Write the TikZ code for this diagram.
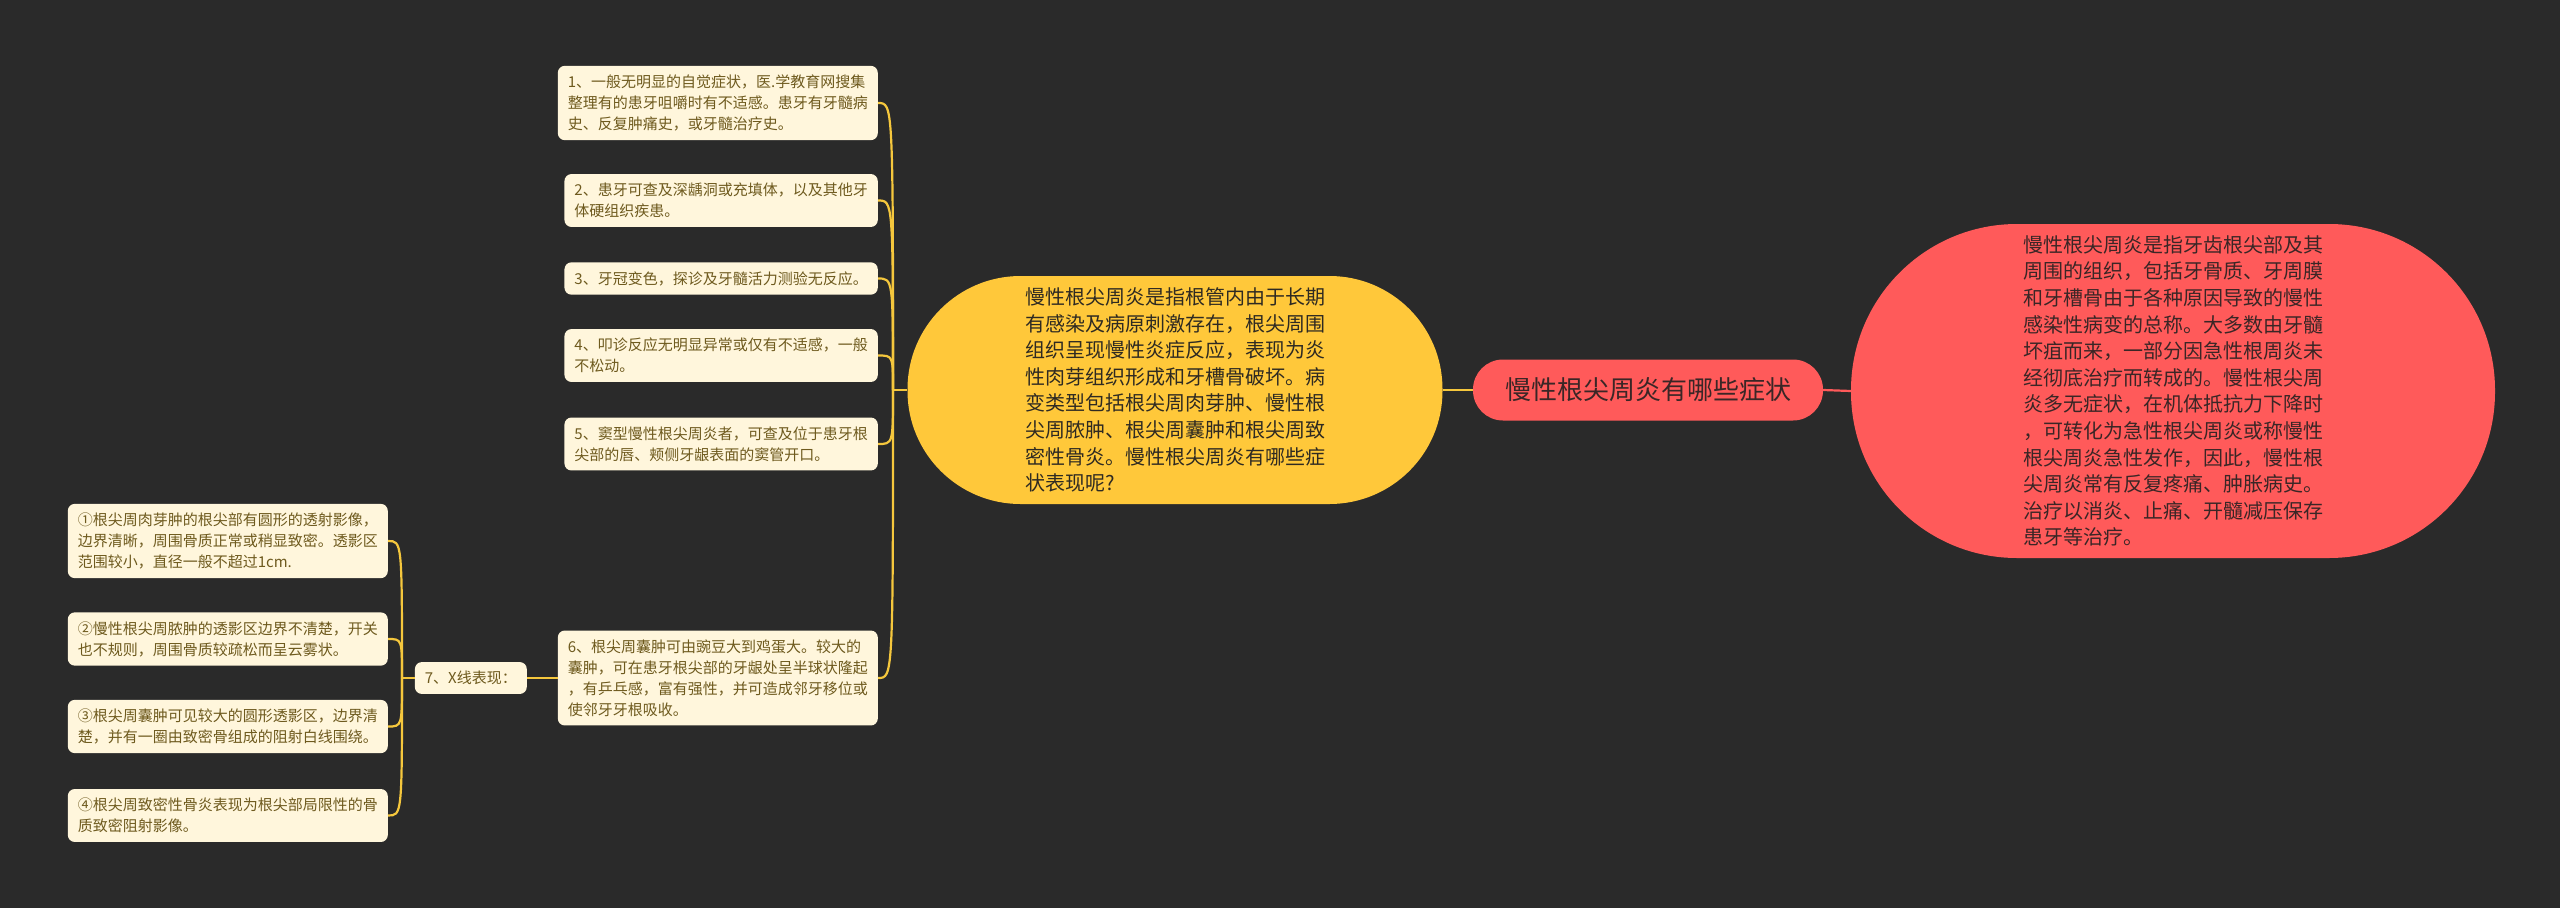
\documentclass[tikz,border=0pt]{standalone}
\usepackage{fontspec}
\setmainfont{Noto Sans CJK SC}
\definecolor{bg}{HTML}{2A2A2A}
\definecolor{yel}{HTML}{FFC83A}
\definecolor{redc}{HTML}{FF5A5A}
\definecolor{boxfill}{HTML}{FFF6DC}
\definecolor{boxtext}{HTML}{6E5A1E}
\definecolor{ylinec}{HTML}{F5C73D}
\definecolor{darktext}{HTML}{2E2A22}
\definecolor{redtext}{HTML}{3A2626}
\begin{document}
\begin{tikzpicture}[x=1pt,y=-1pt,
  leaf/.style={fill=boxfill, rounded corners=7pt, inner xsep=10pt, inner ysep=9pt,
    align=left, font=\fontsize{15}{21}\selectfont, text=boxtext, anchor=east},
  yellownode/.style={fill=yel, minimum width=535pt, minimum height=228pt,
    rounded corners=113pt, align=left, text width=300pt, inner sep=0pt,
    font=\fontsize{20}{26.6}\selectfont, text=darktext},
  centernode/.style={fill=redc, minimum width=350pt, minimum height=61pt,
    rounded corners=30pt, inner sep=0pt, font=\fontsize{26}{30}\selectfont, text=redtext},
  bignode/.style={fill=redc, minimum width=644pt, minimum height=334pt,
    rounded corners=166pt, align=left, text width=300pt, inner sep=0pt,
    font=\fontsize{20}{26.6}\selectfont, text=redtext},
  yline/.style={draw=ylinec, line width=2.2pt},
  rline/.style={draw=redc, line width=2.2pt}]
\useasboundingbox[fill=bg] (0,0) rectangle (2560,908);

% main nodes
\node[yellownode] (y) at (1175,390) {慢性根尖周炎是指根管内由于长期\\有感染及病原刺激存在，根尖周围\\组织呈现慢性炎症反应，表现为炎\\性肉芽组织形成和牙槽骨破坏。病\\变类型包括根尖周肉芽肿、慢性根\\尖周脓肿、根尖周囊肿和根尖周致\\密性骨炎。慢性根尖周炎有哪些症\\状表现呢?};
\node[centernode] (c) at (1648,390) {慢性根尖周炎有哪些症状};
\node[bignode] (r) at (2173,391) {慢性根尖周炎是指牙齿根尖部及其\\周围的组织，包括牙骨质、牙周膜\\和牙槽骨由于各种原因导致的慢性\\感染性病变的总称。大多数由牙髓\\坏疽而来，一部分因急性根周炎未\\经彻底治疗而转成的。慢性根尖周\\炎多无症状，在机体抵抗力下降时\\，可转化为急性根尖周炎或称慢性\\根尖周炎急性发作，因此，慢性根\\尖周炎常有反复疼痛、肿胀病史。\\治疗以消炎、止痛、开髓减压保存\\患牙等治疗。};

% right-side leaves of yellow node
\node[leaf] (b1) at (878,103) {1、一般无明显的自觉症状，医.学教育网搜集\\整理有的患牙咀嚼时有不适感。患牙有牙髓病\\史、反复肿痛史，或牙髓治疗史。};
\node[leaf] (b2) at (878,200.5) {2、患牙可查及深龋洞或充填体，以及其他牙\\体硬组织疾患。};
\node[leaf] (b3) at (878,278.5) {3、牙冠变色，探诊及牙髓活力测验无反应。};
\node[leaf] (b4) at (878,355.5) {4、叩诊反应无明显异常或仅有不适感，一般\\不松动。};
\node[leaf] (b5) at (878,444) {5、窦型慢性根尖周炎者，可查及位于患牙根\\尖部的唇、颊侧牙龈表面的窦管开口。};
\node[leaf] (b6) at (878,678) {6、根尖周囊肿可由豌豆大到鸡蛋大。较大的\\囊肿，可在患牙根尖部的牙龈处呈半球状隆起\\，有乒乓感，富有强性，并可造成邻牙移位或\\使邻牙牙根吸收。};
\node[leaf] (b7) at (527,678) {7、X线表现：};

% X-ray leaves
\node[leaf] (l1) at (388,541) {①根尖周肉芽肿的根尖部有圆形的透射影像，\\边界清晰，周围骨质正常或稍显致密。透影区\\范围较小，直径一般不超过1cm.};
\node[leaf] (l2) at (388,639) {②慢性根尖周脓肿的透影区边界不清楚，开关\\也不规则，周围骨质较疏松而呈云雾状。};
\node[leaf] (l3) at (388,726.5) {③根尖周囊肿可见较大的圆形透影区，边界清\\楚，并有一圈由致密骨组成的阻射白线围绕。};
\node[leaf] (l4) at (388,815.5) {④根尖周致密性骨炎表现为根尖部局限性的骨\\质致密阻射影像。};

% connectors
\draw[rline] (c.east) -- (r.west);
\draw[yline] (y.east) -- (c.west);
\coordinate (J) at (893,390);
\draw[yline] (y.west) -- (J);
\foreach \b in {b1,b2,b3,b4,b5,b6}
  \draw[yline] (J) .. controls (J |- \b.east) and (J |- \b.east) .. (\b.east);
\draw[yline] (b6.west) -- (b7.east);
\coordinate (J2) at (402,678);
\draw[yline] (b7.west) -- (J2);
\foreach \b in {l1,l2,l3,l4}
  \draw[yline] (J2) .. controls (J2 |- \b.east) and (J2 |- \b.east) .. (\b.east);
\end{tikzpicture}
\end{document}
